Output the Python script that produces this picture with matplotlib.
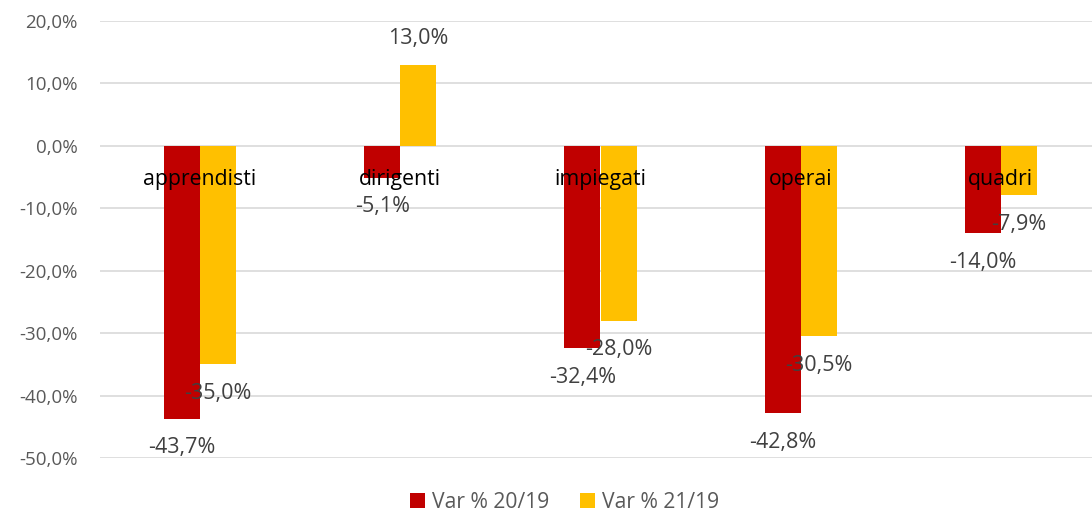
import matplotlib.pyplot as plt
import numpy as np

categories = ['apprendisti', 'dirigenti', 'impiegati', 'operai', 'quadri']
var_20_19 = [-43.7, -5.1, -32.4, -42.8, -14.0]
var_21_19 = [-35.0, 13.0, -28.0, -30.5, -7.9]
series_names = ['Var % 20/19', 'Var % 21/19']
yticks = [20, 10, 0, -10, -20, -30, -40, -50]

plt.rcParams['font.family'] = ['Open Sans', 'DejaVu Sans']

def pct(v):
    return f'{v:.1f}%'.replace('.', ',')

fig = plt.figure(figsize=(10.92, 5.18), dpi=100)
ax = fig.add_axes([100 / 1092, 60 / 518, 1001 / 1092, 437 / 518])

x = np.arange(len(categories))
w = 0.18
bars1 = ax.bar(x - w / 2, var_20_19, width=w, color='#C00000', label=series_names[0], zorder=2)
bars2 = ax.bar(x + w / 2, var_21_19, width=w, color='#FFC000', label=series_names[1], zorder=2)

ax.set_xlim(-0.5, 4.5)
ax.set_ylim(-50, 20)
ax.set_yticks(yticks)
ax.set_yticklabels([pct(v) for v in yticks], fontsize=13.5, color='#595959')
ax.tick_params(axis='y', length=0, pad=16)
ax.set_xticks([])
ax.grid(axis='y', color='#D9D9D9', linewidth=1.2, zorder=0)
for s in ax.spines.values():
    s.set_visible(False)

# category labels sit next to the zero line
for i, c in enumerate(categories):
    ax.annotate(c, xy=(i, 0), xytext=(0, -34), textcoords='offset pixels',
                ha='center', va='center', fontsize=15.3, color='black', zorder=3)

# data labels
for bars in (bars1, bars2):
    for b in bars:
        v = b.get_height()
        off = 26 if v > 0 else -29
        ax.annotate(pct(v), xy=(b.get_x() + b.get_width() / 2, v), xytext=(0, off),
                    textcoords='offset pixels', ha='center', va='center',
                    fontsize=15.5, color='#404040', zorder=3)

fig.legend(loc='center', bbox_to_anchor=(0.517, 0.03), ncol=2, frameon=False,
           fontsize=15.2, handlelength=0.7, handleheight=0.7, columnspacing=1.5,
           handletextpad=0.3, labelcolor='#595959', borderpad=0.2)

fig.savefig('out.png', dpi=100)
